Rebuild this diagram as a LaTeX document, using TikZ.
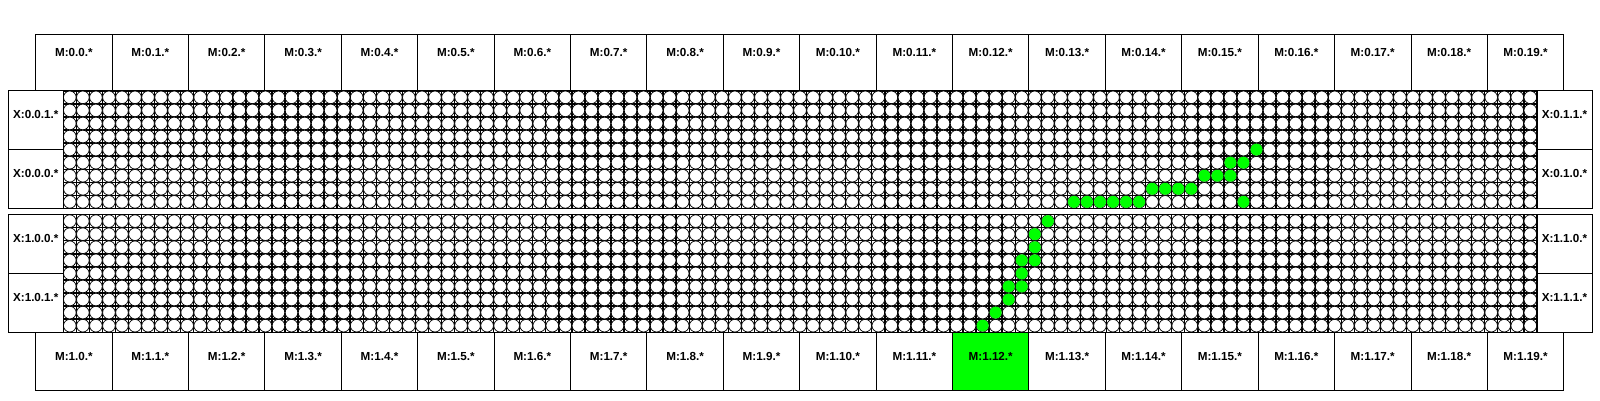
\documentclass[tikz,border=0pt]{standalone}
\usepackage{fontspec}
\setmainfont{Liberation Sans}

\tikzset{
  box/.style={draw=black, line width=0.6pt},
  lbl/.style={font=\fontsize{8.3}{10}\selectfont\bfseries, inner sep=0pt},
  cell/.style={draw=black, fill=white, line width=0.5pt},
  hit/.style={fill=green},
}

\begin{document}
\begin{tikzpicture}[x=0.25mm, y=-0.25mm]
  \useasboundingbox (0,0) rectangle (1600,400);

  % 上段 M ボックス (0.0 - 0.19)
  \foreach \col in {0,...,19} {
    \draw[box] (35.7+\col*76.4, 34.3) rectangle ++(76.4, 56.5);
    \node[lbl] (m0-\col) at (73.9+\col*76.4, 52.3) {M:0.\col.*};
  }

  % 下段 M ボックス (1.12 だけ緑)
  \fill[green] (35.7+12*76.4, 332.2) rectangle ++(76.4, 57.8);
  \foreach \col in {0,...,19} {
    \draw[box] (35.7+\col*76.4, 332.2) rectangle ++(76.4, 57.8);
    \node[lbl] (m1-\col) at (73.9+\col*76.4, 356.5) {M:1.\col.*};
  }

  % 2 つのブロック: 格子線と円 (113 x 9)
  \foreach \top in {90.8, 214.6} {
    \foreach \i in {0,...,113}
      \draw[line width=1pt] (63.3+\i*13.04, \top) -- ++(0, 117.6);
    \foreach \j in {0,...,9}
      \draw[line width=1pt] (63.3, \top+\j*13.067) -- ++(1473.4, 0);
    \foreach \c in {0,...,112} {
      \foreach \r in {0,...,8} {
        \draw[cell] (69.82+\c*13.04, \top+6.53+\r*13.067) circle[radius=1.58mm];
      }
    }
  }

  % 緑の円 (上ブロック)
  \foreach \r/\c in {4/91, 5/89, 5/90, 6/87, 6/88, 6/89,
                     7/83, 7/84, 7/85, 7/86,
                     8/77, 8/78, 8/79, 8/80, 8/81, 8/82, 8/90}
    \fill[hit] (69.82+\c*13.04, 97.33+\r*13.067) circle[radius=1.5mm];

  % 緑の円 (下ブロック)
  \foreach \r/\c in {0/75, 1/74, 2/74, 3/73, 3/74, 4/73,
                     5/72, 5/73, 6/72, 7/71, 8/70}
    \fill[hit] (69.82+\c*13.04, 221.13+\r*13.067) circle[radius=1.5mm];

  % 左の X ボックス
  \draw[box] (8.3, 90.8) rectangle (63.3, 149.6);
  \draw[box] (8.3, 149.6) rectangle (63.3, 208.4);
  \draw[box] (8.3, 214.6) rectangle (63.3, 273.4);
  \draw[box] (8.3, 273.4) rectangle (63.3, 332.2);
  \node[lbl] (x001) at (35.8, 114.8) {X:0.0.1.*};
  \node[lbl] (x000) at (35.8, 173.6) {X:0.0.0.*};
  \node[lbl] (x100) at (35.8, 238.6) {X:1.0.0.*};
  \node[lbl] (x101) at (35.8, 297.4) {X:1.0.1.*};

  % 右の X ボックス
  \draw[box] (1536.7, 90.8) rectangle (1592.3, 149.6);
  \draw[box] (1536.7, 149.6) rectangle (1592.3, 208.4);
  \draw[box] (1536.7, 214.6) rectangle (1592.3, 273.4);
  \draw[box] (1536.7, 273.4) rectangle (1592.3, 332.2);
  \node[lbl] (x011) at (1564.5, 114.8) {X:0.1.1.*};
  \node[lbl] (x010) at (1564.5, 173.6) {X:0.1.0.*};
  \node[lbl] (x110) at (1564.5, 238.6) {X:1.1.0.*};
  \node[lbl] (x111) at (1564.5, 297.4) {X:1.1.1.*};

  % ブロックの外枠
  \draw[box] (63.3, 90.8) rectangle (1536.7, 208.4);
  \draw[box] (63.3, 214.6) rectangle (1536.7, 332.2);
\end{tikzpicture}
\end{document}
